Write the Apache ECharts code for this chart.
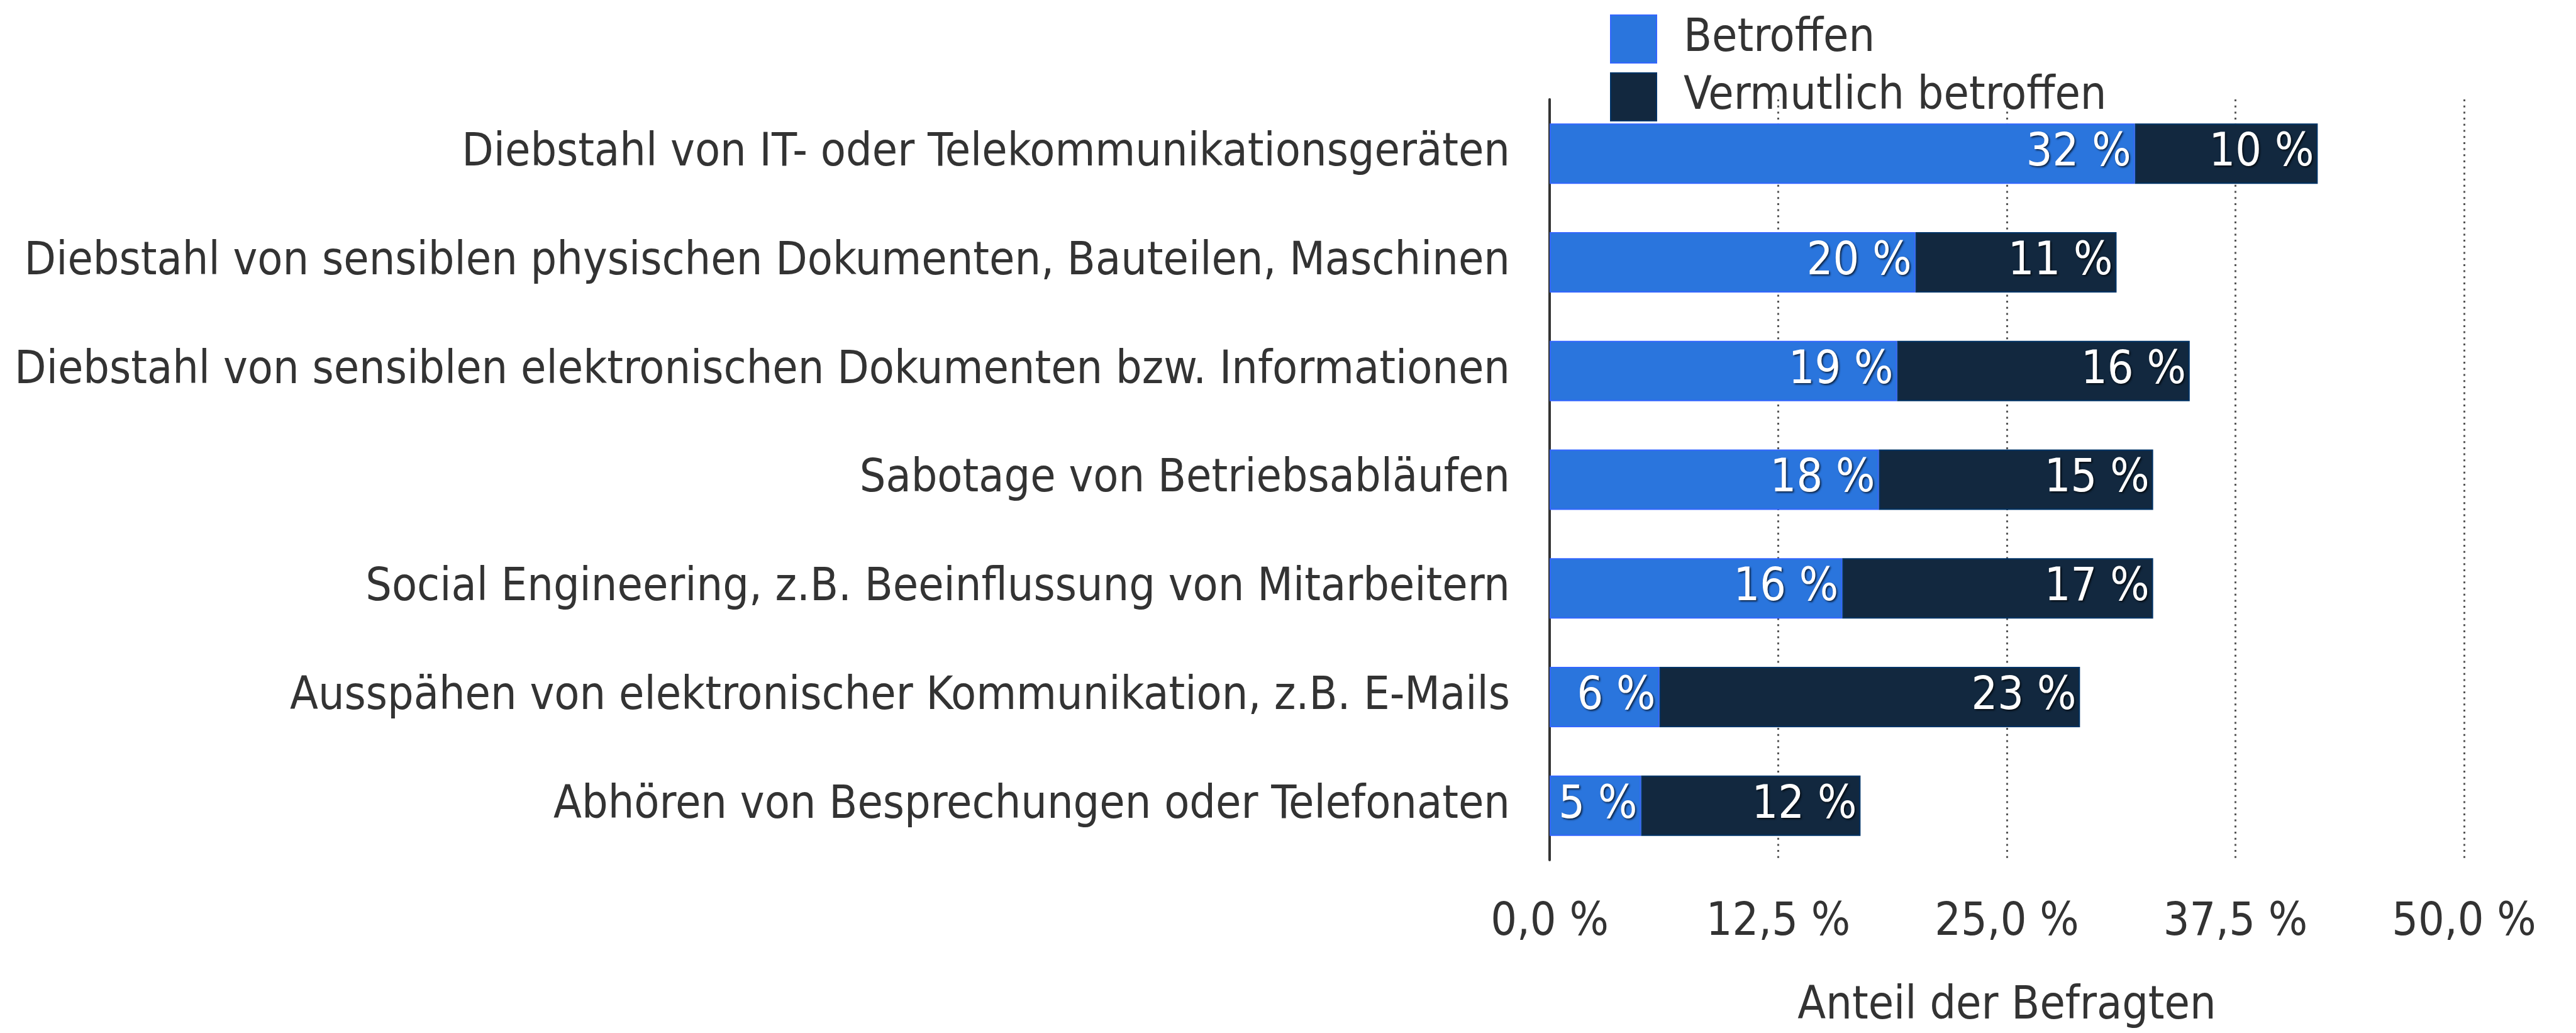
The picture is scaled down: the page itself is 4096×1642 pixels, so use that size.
<!DOCTYPE html>
<html>
<head>
<meta charset="utf-8">
<script src="https://cdn.jsdelivr.net/npm/echarts@6/dist/echarts.min.js"></script>
<style>
html,body{margin:0;padding:0;background:#fff;}
#c{width:4096px;height:1642px;}
</style>
</head>
<body>
<div id="c"></div>
<script>
const categories = [
  'Diebstahl von IT- oder Telekommunikationsgeräten',
  'Diebstahl von sensiblen physischen Dokumenten, Bauteilen, Maschinen',
  'Diebstahl von sensiblen elektronischen Dokumenten bzw. Informationen',
  'Sabotage von Betriebsabläufen',
  'Social Engineering, z.B. Beeinflussung von Mitarbeitern',
  'Ausspähen von elektronischer Kommunikation, z.B. E-Mails',
  'Abhören von Besprechungen oder Telefonaten'
];
const betroffen = [32, 20, 19, 18, 16, 6, 5];
const vermutlich = [10, 11, 16, 15, 17, 23, 12];
const seriesNames = ['Betroffen', 'Vermutlich betroffen'];
const axisName = 'Anteil der Befragten';

const FONT = "'DejaVu Sans Condensed', 'DejaVu Sans', sans-serif";
const FS = 73;

const chart = echarts.init(document.getElementById('c'));
const labelStyle = {
  show: true,
  position: 'insideRight',
  distance: 6,
  color: '#ffffff',
  fontFamily: FONT,
  fontSize: FS,
  textShadowColor: 'rgba(0,0,0,0.7)',
  textShadowBlur: 3,
  textShadowOffsetX: 2,
  textShadowOffsetY: 2,
  formatter: p => p.value + ' %'
};
chart.setOption({
  animation: false,
  textStyle: { fontFamily: FONT },
  legend: {
    orient: 'vertical',
    left: 2555,
    top: 18,
    itemWidth: 73,
    itemHeight: 76,
    itemGap: 14,
    icon: 'rect',
    textStyle: { fontFamily: FONT, fontSize: FS, color: '#333333', padding: [0, 0, 0, 38] },
    data: seriesNames
  },
  grid: { left: 2464, top: 158, width: 1454, height: 1213, containLabel: false },
  xAxis: {
    type: 'value',
    min: 0,
    max: 50,
    interval: 12.5,
    axisLine: { show: false },
    axisTick: { show: false },
    axisLabel: {
      margin: 64,
      fontFamily: FONT,
      fontSize: FS,
      color: '#333333',
      formatter: v => v.toFixed(1).replace('.', ',') + ' %'
    },
    splitLine: {
      show: true,
      lineStyle: { color: '#555555', width: 3, type: [3, 6.7] }
    },
    name: axisName,
    nameLocation: 'middle',
    nameGap: 197,
    nameTextStyle: { fontFamily: FONT, fontSize: FS, color: '#333333' }
  },
  yAxis: {
    type: 'category',
    inverse: true,
    data: categories,
    axisLine: { show: true, lineStyle: { color: '#333333', width: 4 } },
    axisTick: { show: false },
    axisLabel: {
      margin: 63,
      fontFamily: FONT,
      fontSize: FS,
      color: '#333333'
    },
    splitLine: { show: false }
  },
  series: [
    {
      name: seriesNames[0],
      type: 'bar',
      stack: 'a',
      barWidth: 96,
      data: betroffen,
      itemStyle: { color: '#2a75dd', borderColor: '#3366ff', borderWidth: 2 },
      label: labelStyle
    },
    {
      name: seriesNames[1],
      type: 'bar',
      stack: 'a',
      barWidth: 96,
      data: vermutlich,
      itemStyle: { color: '#12283f', borderColor: '#003366', borderWidth: 2 },
      label: labelStyle
    }
  ]
});
</script>
</body>
</html>
